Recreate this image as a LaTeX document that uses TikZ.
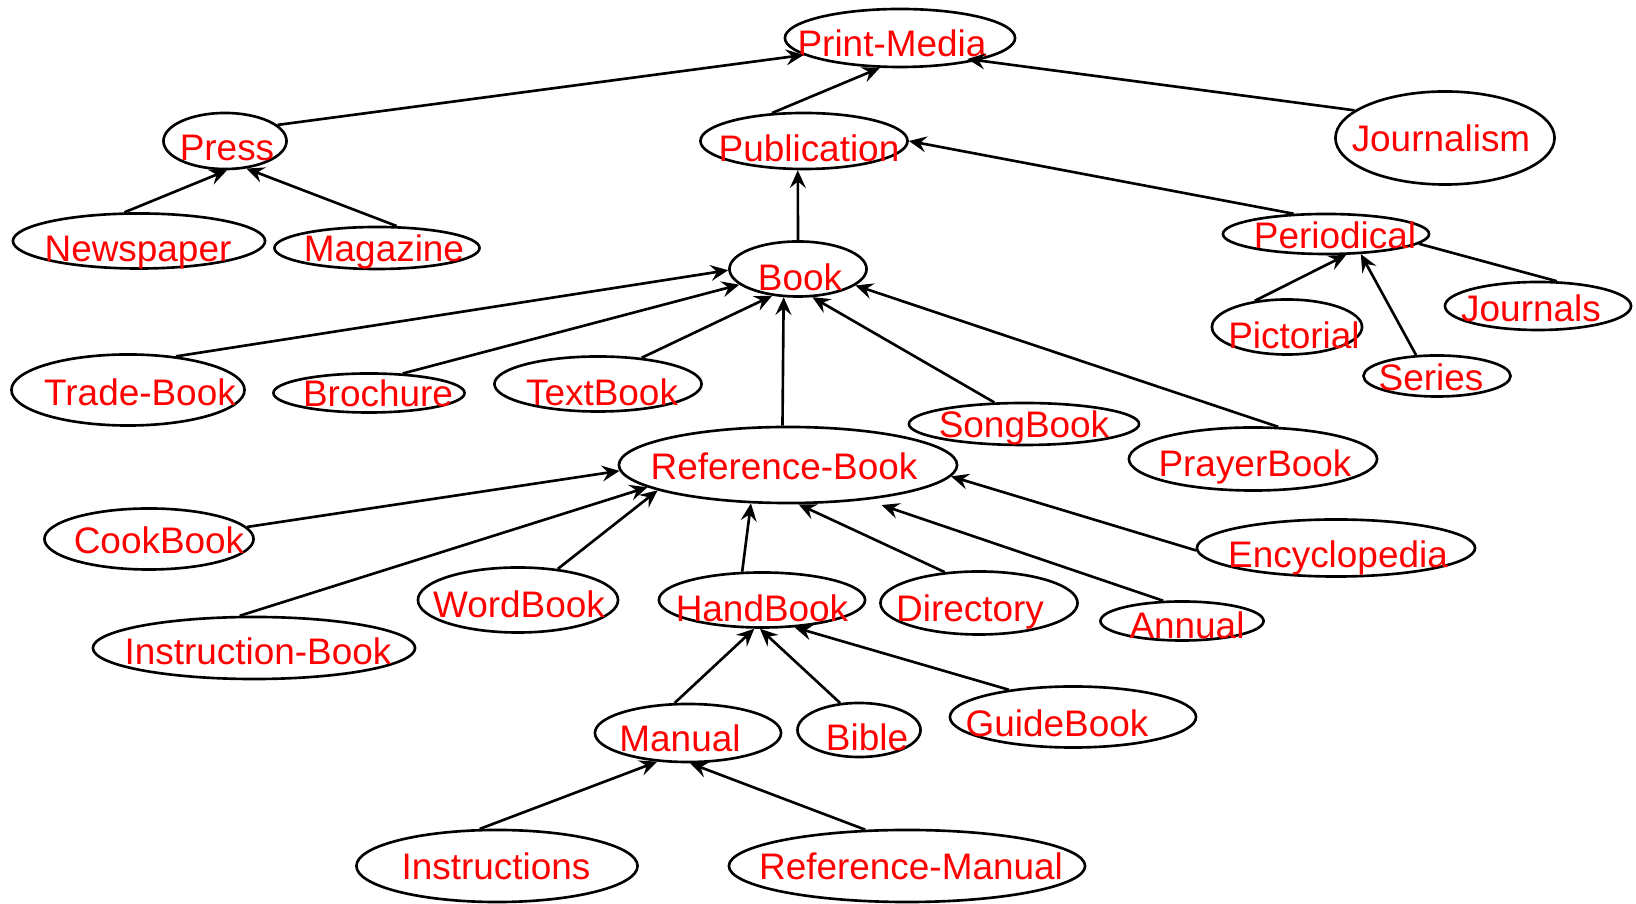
\documentclass[tikz,border=0pt]{standalone}
\usepackage{fontspec}
\setmainfont{Liberation Sans}
\usetikzlibrary{shapes.geometric,arrows.meta}
\tikzset{
  cls/.style={ellipse, draw, line width=0.75pt, inner sep=0pt},
  lbl/.style={text=red, font=\fontsize{10.5pt}{12pt}\selectfont, inner sep=0pt, text height=7.5pt, text depth=0pt},
  link/.style={line width=0.75pt},
  isa/.style={link, -{Stealth[length=5pt,width=4.5pt,inset=1.8pt]}}
}
\begin{document}
\begin{tikzpicture}[x=0.01cm, y=-0.01cm]
        \useasboundingbox (0,0) rectangle (1636,904);
        % Top of the hierarchy
        \node[cls, minimum width=2.30cm, minimum height=0.58cm, label={[lbl,xshift=-0.08cm,yshift=-0.05cm]center:Print-Media}] (printmedia) at (900,38) {};
        \node[cls, minimum width=1.23cm, minimum height=0.56cm, label={[lbl,xshift=0.02cm,yshift=-0.06cm]center:Press}] (press) at (225,141) {};
        \node[cls, minimum width=2.07cm, minimum height=0.56cm, label={[lbl,xshift=0.05cm,yshift=-0.07cm]center:Publication}] (publication) at (804,141) {};
        \node[cls, minimum width=2.19cm, minimum height=0.93cm, label={[lbl,xshift=-0.04cm]center:Journalism}] (journalism) at (1445,138) {};
        \node[cls, minimum width=2.52cm, minimum height=0.55cm, label={[lbl,xshift=-0.01cm,yshift=-0.07cm]center:Newspaper}] (newspaper) at (139,241) {};
        \node[cls, minimum width=2.05cm, minimum height=0.42cm, label={[lbl,xshift=0.07cm]center:Magazine}] (magazine) at (377,248) {};
        \node[cls, minimum width=1.37cm, minimum height=0.55cm, label={[lbl,xshift=0.02cm,yshift=-0.08cm]center:Book}] (book) at (798,269) {};
        % Periodicals
        \node[cls, minimum width=2.06cm, minimum height=0.40cm, label={[lbl,xshift=0.09cm,yshift=-0.01cm]center:Periodical}] (periodical) at (1326,234) {};
        \node[cls, minimum width=1.50cm, minimum height=0.55cm, label={[lbl,xshift=0.07cm,yshift=-0.08cm]center:Pictorial}] (pictorial) at (1287,327) {};
        \node[cls, minimum width=1.86cm, minimum height=0.48cm, label={[lbl,xshift=-0.07cm,yshift=-0.02cm]center:Journals}] (journals) at (1538,306) {};
        \node[cls, minimum width=1.47cm, minimum height=0.41cm, label={[lbl,xshift=-0.06cm,yshift=-0.01cm]center:Series}] (series) at (1437,376) {};
        % Kinds of book
        \node[cls, minimum width=2.33cm, minimum height=0.71cm, label={[lbl,xshift=0.12cm,yshift=-0.02cm]center:Trade-Book}] (tradebook) at (128,390) {};
        \node[cls, minimum width=1.91cm, minimum height=0.39cm, label={[lbl,xshift=0.09cm]center:Brochure}] (brochure) at (369,393) {};
        \node[cls, minimum width=2.07cm, minimum height=0.55cm, label={[lbl,xshift=0.04cm,yshift=-0.08cm]center:TextBook}] (textbook) at (598,384) {};
        \node[cls, minimum width=2.30cm, minimum height=0.42cm, label={[lbl]center:SongBook}] (songbook) at (1024,424) {};
        \node[cls, minimum width=2.48cm, minimum height=0.63cm, label={[lbl,xshift=0.02cm,yshift=-0.04cm]center:PrayerBook}] (prayerbook) at (1253,459) {};
        \node[cls, minimum width=3.38cm, minimum height=0.76cm, label={[lbl,xshift=-0.04cm,yshift=-0.01cm]center:Reference-Book}] (refbook) at (788,465) {};
        % Kinds of reference book
        \node[cls, minimum width=2.09cm, minimum height=0.61cm, label={[lbl,xshift=0.10cm,yshift=-0.01cm]center:CookBook}] (cookbook) at (149,539) {};
        \node[cls, minimum width=2.78cm, minimum height=0.57cm, label={[lbl,xshift=0.02cm,yshift=-0.06cm]center:Encyclopedia}] (encyclopedia) at (1336,548) {};
        \node[cls, minimum width=3.22cm, minimum height=0.62cm, label={[lbl,xshift=0.04cm,yshift=-0.03cm]center:Instruction-Book}] (instrbook) at (254,648) {};
        \node[cls, minimum width=2.00cm, minimum height=0.65cm, label={[lbl,xshift=0.01cm,yshift=-0.04cm]center:WordBook}] (wordbook) at (518,600) {};
        \node[cls, minimum width=2.06cm, minimum height=0.55cm, label={[lbl,yshift=-0.08cm]center:HandBook}] (handbook) at (762,600) {};
        \node[cls, minimum width=1.97cm, minimum height=0.63cm, label={[lbl,xshift=-0.09cm,yshift=-0.05cm]center:Directory}] (directory) at (979,603) {};
        \node[cls, minimum width=1.63cm, minimum height=0.39cm, label={[lbl,xshift=0.05cm,yshift=-0.04cm]center:Annual}] (annual) at (1182,621) {};
        % Kinds of handbook
        \node[cls, minimum width=1.86cm, minimum height=0.58cm, label={[lbl,xshift=-0.08cm,yshift=-0.05cm]center:Manual}] (manual) at (688,733) {};
        \node[cls, minimum width=1.23cm, minimum height=0.54cm, label={[lbl,xshift=0.08cm,yshift=-0.07cm]center:Bible}] (bible) at (859,730) {};
        \node[cls, minimum width=2.46cm, minimum height=0.61cm, label={[lbl,xshift=-0.16cm,yshift=-0.06cm]center:GuideBook}] (guidebook) at (1073,717) {};
        \node[cls, minimum width=2.81cm, minimum height=0.72cm, label={[lbl,xshift=-0.01cm]center:Instructions}] (instructions) at (497,866) {};
        \node[cls, minimum width=3.56cm, minimum height=0.72cm, label={[lbl,xshift=0.04cm]center:Reference-Manual}] (refmanual) at (907,866) {};
        % Links to the parent class
        \draw[isa] (press.17) -- (printmedia.190);
        \draw[isa] (publication.139) -- (printmedia.236);
        \draw[isa, shorten >=-0.11cm] (journalism.163) -- (printmedia.344);
        \draw[isa] (newspaper.117) -- (press.274);
        \draw[isa] (magazine.48) -- (press.308);
        \draw[isa] (book.north) -- (publication.258);
        \draw[isa] (periodical.148) -- (publication.0);
        \draw[isa] (tradebook.35) -- (book.181);
        \draw[isa] (brochure.30) -- (book.195);
        \draw[isa] (textbook.31) -- (book.226);
        \draw[isa] (refbook.98) -- (book.243);
        \draw[isa] (songbook.144) -- (book.297);
        \draw[isa] (prayerbook.52) -- (book.344);
        \draw[isa] (pictorial.141) -- (periodical.314);
        \draw[isa] (series.135) -- (periodical.330);
        \draw[link] (journals.53) -- (periodical.354);
        \draw[isa] (cookbook.7) -- (refbook.182);
        \draw[isa] (instrbook.114) -- (refbook.189);
        \draw[isa] (wordbook.38) -- (refbook.191);
        \draw[isa] (handbook.125) -- (refbook.226);
        \draw[isa] (directory.138) -- (refbook.285);
        \draw[isa, shorten >=0.16cm] (annual.133) -- (refbook.336);
        \draw[isa] (encyclopedia.181) -- (refbook.356);
        \draw[isa] (manual.114) -- (handbook.255);
        \draw[isa] (bible.125) -- (handbook.266);
        \draw[isa] (guidebook.157) -- (handbook.320);
        \draw[isa] (instructions.115) -- (manual.223);
        \draw[isa] (refmanual.139) -- (manual.274);
    \end{tikzpicture}
\end{document}
